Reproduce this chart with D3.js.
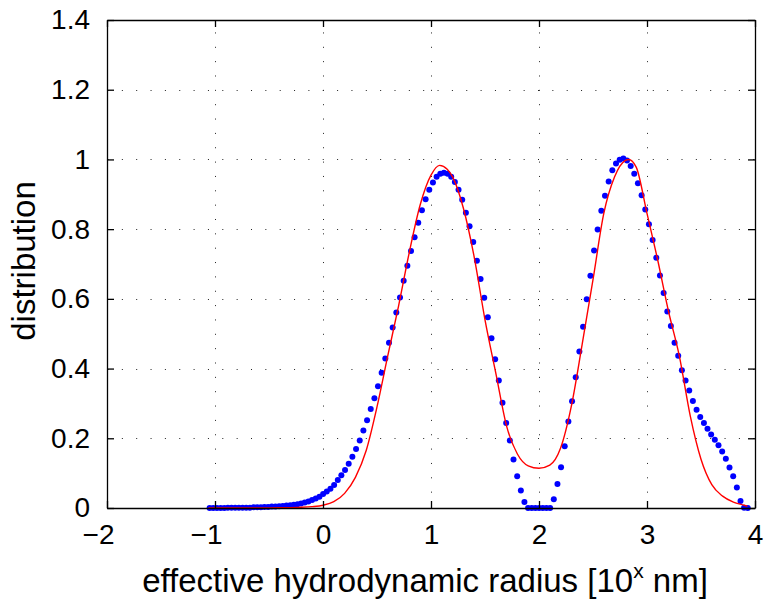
<!DOCTYPE html>
<html><head><meta charset="utf-8">
<script src="https://cdn.jsdelivr.net/npm/d3@7"></script>
<style>
body{margin:0;background:#fff;}
svg{display:block;}
text{font-family:"Liberation Sans",Arial,Helvetica,sans-serif;fill:#000;}
</style>
</head><body>
<svg id="chart" width="764" height="602"></svg>
<script>
// ---- data ----
const xTicks = [-2, -1, 0, 1, 2, 3, 4];
const xTickLabels = ["\u22122", "\u22121", "0", "1", "2", "3", "4"];
const yTicks = [0, 0.2, 0.4, 0.6, 0.8, 1, 1.2, 1.4];
const yTickLabels = ["0", "0.2", "0.4", "0.6", "0.8", "1", "1.2", "1.4"];

// measured distribution (blue dots): log10 radius and value
const measuredX = [
-1.050,-1.016,-0.982,-0.948,-0.914,-0.881,-0.847,-0.813,-0.779,-0.745,
-0.711,-0.677,-0.643,-0.609,-0.575,-0.542,-0.508,-0.474,-0.440,-0.406,
-0.372,-0.338,-0.304,-0.270,-0.236,-0.203,-0.169,-0.135,-0.101,-0.067,
-0.033,0.001,0.035,0.069,0.103,0.137,0.170,0.204,0.238,0.272,
0.306,0.340,0.374,0.408,0.442,0.476,0.509,0.543,0.577,0.611,
0.645,0.679,0.713,0.747,0.781,0.815,0.848,0.882,0.916,0.950,
0.984,1.018,1.052,1.086,1.120,1.154,1.187,1.221,1.255,1.289,
1.323,1.357,1.391,1.425,1.459,1.493,1.526,1.560,1.594,1.628,
1.662,1.696,1.730,1.764,1.798,1.832,1.865,1.899,1.933,1.967,
2.001,2.035,2.069,2.103,2.137,2.171,2.204,2.238,2.272,2.306,
2.340,2.374,2.408,2.442,2.476,2.510,2.543,2.577,2.611,2.645,
2.679,2.713,2.747,2.781,2.815,2.849,2.882,2.916,2.950,2.984,
3.018,3.052,3.086,3.120,3.154,3.188,3.221,3.255,3.289,3.323,
3.357,3.391,3.425,3.459,3.493,3.527,3.560,3.594,3.628,3.662,
3.696,3.730,3.764,3.798,3.832,3.866,3.899,3.933
];
const measuredY = [
0.000,0.000,0.000,0.000,0.000,0.001,0.001,0.001,0.001,0.001,
0.001,0.001,0.002,0.002,0.002,0.003,0.003,0.004,0.004,0.005,
0.006,0.007,0.008,0.009,0.011,0.013,0.016,0.019,0.023,0.027,
0.032,0.040,0.047,0.055,0.066,0.080,0.094,0.109,0.127,0.147,
0.169,0.194,0.222,0.252,0.284,0.315,0.349,0.388,0.429,0.474,
0.518,0.561,0.604,0.652,0.695,0.737,0.777,0.818,0.854,0.886,
0.913,0.934,0.950,0.959,0.962,0.959,0.950,0.935,0.913,0.884,
0.847,0.808,0.763,0.709,0.657,0.603,0.547,0.487,0.427,0.366,
0.302,0.244,0.194,0.139,0.091,0.050,0.017,0.000,0.000,0.000,
0.000,0.000,0.000,0.000,0.025,0.069,0.117,0.177,0.248,0.306,
0.375,0.449,0.520,0.599,0.666,0.739,0.799,0.853,0.896,0.937,
0.969,0.988,0.999,1.003,0.997,0.981,0.959,0.932,0.897,0.856,
0.814,0.769,0.718,0.667,0.617,0.564,0.522,0.474,0.437,0.395,
0.366,0.337,0.307,0.282,0.261,0.244,0.227,0.211,0.196,0.180,
0.162,0.141,0.116,0.091,0.059,0.020,0.001,0.000
];

// fitted distribution (red line)
const fitX = [-1.06,-0.8,-0.6,-0.4,-0.3,-0.2,-0.1,0.0,0.1,0.2,0.3,0.4,0.5,0.6,0.7,0.8,0.9,1.0,1.08,1.15,
  1.2,1.3,1.4,1.5,1.6,1.7,1.8,1.9,2.0,2.1,2.2,2.3,2.4,2.5,2.6,2.7,2.8,2.83,2.9,3.0,
  3.1,3.2,3.3,3.4,3.5,3.6,3.7,3.8,3.9,3.93];
const fitY = [0,0,0,0.001,0.001,0.002,0.004,0.008,0.018,0.042,0.088,0.165,0.29,0.437,0.58,0.735,0.87,0.955,0.983,0.972,
  0.95,0.86,0.72,0.54,0.387,0.235,0.155,0.121,0.114,0.123,0.172,0.293,0.47,0.655,0.845,0.95,0.997,1.0,0.978,0.845,
  0.71,0.563,0.435,0.265,0.14,0.067,0.034,0.017,0.008,0.005];

const xLabelMain = "effective hydrodynamic radius [10";
const xLabelSup = "x";
const xLabelEnd = " nm]";
const yLabel = "distribution";

// ---- layout ----
const plot = {left:107, right:755, top:20, bottom:508};
const svg = d3.select("#chart");
const x = d3.scaleLinear().domain([-2, 4]).range([plot.left, plot.right]);
const y = d3.scaleLinear().domain([0, 1.4]).range([plot.bottom, plot.top]);
const tickLen = 7;

// grid
const grid = svg.append("g").attr("stroke", "#222").attr("stroke-width", 1).attr("stroke-dasharray", "1 13.35");
xTicks.filter(t => t > -2 && t < 4).forEach(t => {
  grid.append("line").attr("x1", Math.round(x(t))+0.5).attr("x2", Math.round(x(t))+0.5)
    .attr("y1", plot.bottom-1).attr("y2", plot.top);
});
yTicks.filter(t => t > 0 && t < 1.4).forEach(t => {
  grid.append("line").attr("y1", Math.round(y(t))+0.5).attr("y2", Math.round(y(t))+0.5)
    .attr("x1", plot.left+0.5).attr("x2", plot.right);
});

// data: dots
const pts = measuredX.map((v, i) => [v, measuredY[i]]);
svg.append("g").attr("fill", "#0000ff").selectAll("circle").data(pts).join("circle")
  .attr("cx", d => x(d[0])).attr("cy", d => y(d[1])).attr("r", 3);

// data: fit line
const fit = fitX.map((v, i) => [v, fitY[i]]);
svg.append("path").datum(fit)
  .attr("fill", "none").attr("stroke", "#ff0000").attr("stroke-width", 1.4)
  .attr("d", d3.line().x(d => x(d[0])).y(d => y(d[1])).curve(d3.curveMonotoneX));

// axes box with inward ticks on all sides
const fmtX = (d, i) => xTickLabels[i];
const fmtY = (d, i) => yTickLabels[i];
const axB = d3.axisBottom(x).tickValues(xTicks).tickFormat(fmtX).tickSizeInner(-tickLen).tickSizeOuter(0).tickPadding(16);
const axT = d3.axisTop(x).tickValues(xTicks).tickFormat("").tickSizeInner(-tickLen).tickSizeOuter(0);
const axL = d3.axisLeft(y).tickValues(yTicks).tickFormat(fmtY).tickSizeInner(-tickLen).tickSizeOuter(0).tickPadding(17);
const axR = d3.axisRight(y).tickValues(yTicks).tickFormat("").tickSizeInner(-tickLen).tickSizeOuter(0);

function style(g){
  g.selectAll(".domain").attr("stroke", "#000").attr("stroke-width", 1.3);
  g.selectAll(".tick line").attr("stroke", "#000").attr("stroke-width", 1.3);
  g.selectAll(".tick text").style("font-family", "'Liberation Sans', Arial, sans-serif").style("font-size", "28px").attr("fill", "#000");
}
const gB = svg.append("g").attr("transform", `translate(0,${plot.bottom})`).call(axB).call(style);
gB.selectAll(".tick text").attr("dx", (d) => d < 0 ? -9 : 0);
svg.append("g").attr("transform", `translate(0,${plot.top})`).call(axT).call(style);
svg.append("g").attr("transform", `translate(${plot.left},0)`).call(axL).call(style);
svg.append("g").attr("transform", `translate(${plot.right},0)`).call(axR).call(style);

// axis titles
const xl = svg.append("text").attr("x", 425).attr("y", 592)
  .attr("text-anchor", "middle").style("font-size", "33px");
xl.append("tspan").text(xLabelMain);
xl.append("tspan").attr("dy", -14).style("font-size", "21px").text(xLabelSup);
xl.append("tspan").attr("dy", 14).text(xLabelEnd);

svg.append("text").attr("transform", `translate(35,261) rotate(-90)`)
  .attr("text-anchor", "middle").style("font-size", "33px").text(yLabel);
</script>
</body></html>
